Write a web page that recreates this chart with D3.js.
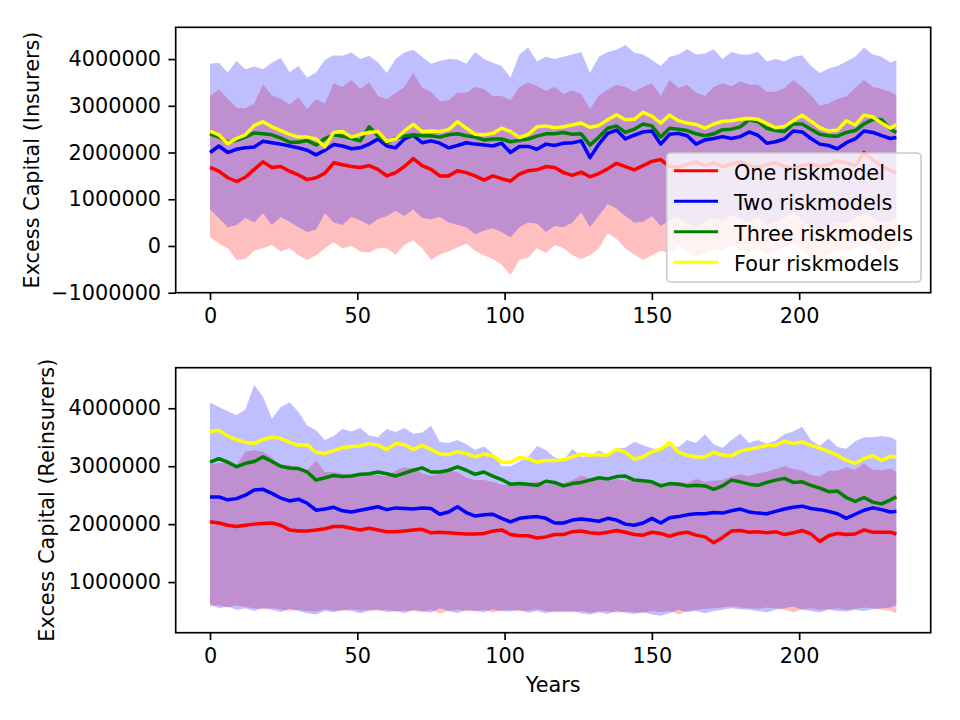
<!DOCTYPE html>
<html>
<head>
<meta charset="utf-8">
<script src="https://cdn.jsdelivr.net/npm/d3@7"></script>
<style>
  body { margin: 0; background: #fff; }
  svg text { font-family: "DejaVu Sans", sans-serif; fill: #000; }
</style>
</head>
<body>
<div id="chart"></div>
<script>
// years sampled from the simulation (every 3rd year)
const years = [0,3,6,9,12,15,18,21,24,27,30,33,36,39,42,45,48,51,54,
  57,60,63,66,69,72,75,78,81,84,87,90,93,96,99,102,105,108,111,114,117,
  120,123,126,129,132,135,138,141,144,147,150,153,156,159,162,165,168,171,174,177,180,
  183,186,189,192,195,198,201,204,207,210,213,216,219,222,225,228,231,233];

// ---- Insurers (millions) ----
const oneIns = [1.68,1.60,1.46,1.38,1.47,1.64,1.80,1.68,1.70,1.60,1.52,1.42,1.46,1.56,1.78,1.74,1.70,1.68,1.72,
  1.64,1.50,1.57,1.70,1.87,1.72,1.64,1.50,1.50,1.61,1.57,1.50,1.41,1.50,1.44,1.39,1.54,1.61,1.63,1.70,1.68,
  1.57,1.51,1.58,1.48,1.55,1.65,1.77,1.70,1.63,1.72,1.81,1.85,1.70,1.68,1.75,1.80,1.72,1.78,1.70,1.75,1.80,
  1.72,1.68,1.74,1.78,1.70,1.66,1.72,1.76,1.70,1.74,1.82,1.78,1.72,2.00,1.85,1.70,1.62,1.55];
const twoIns = [2.00,2.14,2.00,2.07,2.10,2.12,2.24,2.21,2.18,2.14,2.10,2.05,1.95,2.05,2.17,2.14,2.08,2.10,2.18,
  2.29,2.14,2.10,2.29,2.37,2.21,2.25,2.20,2.10,2.15,2.21,2.18,2.16,2.14,2.20,2.00,2.13,2.13,2.07,2.18,2.15,
  2.20,2.21,2.25,1.89,2.18,2.41,2.48,2.29,2.37,2.44,2.46,2.18,2.39,2.41,2.36,2.18,2.27,2.30,2.34,2.30,2.34,
  2.44,2.37,2.20,2.23,2.29,2.46,2.44,2.30,2.18,2.15,2.08,2.21,2.29,2.46,2.43,2.36,2.30,2.32];
const threeIns = [2.40,2.33,2.22,2.26,2.33,2.42,2.40,2.38,2.31,2.22,2.22,2.26,2.16,2.30,2.38,2.35,2.30,2.25,2.55,
  2.36,2.21,2.31,2.35,2.38,2.36,2.36,2.33,2.38,2.40,2.36,2.33,2.27,2.29,2.29,2.23,2.26,2.29,2.35,2.40,2.40,
  2.43,2.39,2.40,2.16,2.33,2.52,2.57,2.43,2.50,2.61,2.57,2.33,2.52,2.50,2.47,2.40,2.36,2.40,2.49,2.50,2.55,
  2.70,2.66,2.52,2.47,2.45,2.61,2.61,2.50,2.39,2.36,2.35,2.43,2.47,2.61,2.71,2.70,2.50,2.43];
const fourIns = [2.46,2.38,2.19,2.30,2.38,2.58,2.66,2.55,2.47,2.39,2.33,2.33,2.29,2.12,2.43,2.45,2.33,2.39,2.43,
  2.45,2.24,2.29,2.46,2.60,2.45,2.46,2.45,2.49,2.66,2.52,2.39,2.38,2.41,2.52,2.45,2.32,2.39,2.55,2.57,2.53,
  2.55,2.59,2.63,2.54,2.58,2.70,2.81,2.70,2.71,2.86,2.78,2.63,2.80,2.68,2.63,2.60,2.52,2.61,2.67,2.68,2.71,
  2.73,2.71,2.62,2.53,2.56,2.68,2.80,2.67,2.53,2.46,2.48,2.68,2.59,2.80,2.76,2.63,2.52,2.60];
const oneInsLo = [0.20,0.05,-0.05,-0.30,-0.28,-0.10,-0.05,0.02,-0.12,-0.05,-0.20,-0.30,-0.20,-0.05,0.08,-0.05,0.00,-0.12,-0.14,
  -0.05,-0.05,-0.18,0.02,0.12,-0.05,-0.30,-0.18,-0.12,-0.03,0.05,-0.10,-0.20,-0.28,-0.40,-0.62,-0.30,-0.25,-0.05,-0.15,0.02,
  -0.05,-0.20,-0.28,-0.20,-0.05,0.28,0.15,-0.05,-0.18,-0.30,-0.20,-0.10,-0.15,0.00,-0.10,-0.22,-0.15,-0.05,-0.12,0.02,-0.08,
  -0.15,-0.05,-0.20,-0.12,-0.02,0.05,-0.08,-0.25,-0.30,-0.18,-0.10,-0.15,-0.05,0.08,-0.05,-0.15,-0.10,-0.05];
const oneInsHi = [3.21,3.35,3.15,2.96,2.95,3.05,3.46,3.22,3.15,3.03,3.18,2.93,3.14,3.05,3.48,3.40,3.55,3.36,3.50,
  3.21,3.14,3.28,3.40,3.71,3.38,3.30,3.10,3.12,3.28,3.28,3.40,3.36,3.21,3.21,3.12,3.40,3.50,3.42,3.32,3.40,
  3.25,3.33,3.25,2.93,3.22,3.35,3.45,3.40,3.30,3.40,3.48,3.21,3.55,3.38,3.45,3.28,3.21,3.40,3.48,3.42,3.52,
  3.45,3.45,3.30,3.30,3.38,3.55,3.40,3.22,3.00,3.05,3.15,3.20,3.38,3.55,3.40,3.36,3.30,3.22];
const twoInsLo = [0.78,0.60,0.40,0.45,0.60,0.50,0.70,0.45,0.62,0.52,0.40,0.30,0.35,0.70,0.50,0.45,0.62,0.55,0.45,
  0.57,0.64,0.75,0.64,0.78,0.60,0.57,0.62,0.50,0.45,0.40,0.25,0.33,0.38,0.30,0.18,0.40,0.50,0.48,0.30,0.43,
  0.40,0.50,0.72,0.40,0.65,0.90,0.80,0.64,0.50,0.52,0.64,0.43,0.55,0.62,0.48,0.40,0.52,0.60,0.55,0.66,0.58,
  0.50,0.62,0.45,0.52,0.60,0.70,0.55,0.42,0.35,0.45,0.52,0.48,0.58,0.70,0.62,0.50,0.55,0.60];
const twoInsHi = [3.90,3.92,3.71,3.96,3.78,3.84,3.78,3.92,4.03,3.72,3.85,3.60,3.71,3.98,4.08,4.07,4.14,4.00,4.07,
  3.93,3.70,4.00,4.14,4.20,4.05,3.90,3.96,4.00,3.99,3.90,4.15,4.00,3.92,3.85,3.60,4.10,4.25,3.95,4.05,4.00,
  4.05,4.10,4.15,3.70,4.05,4.15,4.20,4.30,4.14,4.10,3.98,3.85,4.05,4.10,4.21,4.10,4.12,4.21,4.00,4.15,4.10,
  4.10,4.15,3.95,4.00,3.95,4.05,4.08,3.85,3.70,3.80,3.85,3.95,4.05,4.25,4.10,4.05,3.92,3.98];

// ---- Reinsurers (millions) ----
const oneRe = [2.04,2.02,1.98,1.96,1.98,2.00,2.01,2.02,1.98,1.90,1.88,1.88,1.90,1.92,1.96,1.96,1.93,1.90,1.93,
  1.90,1.87,1.87,1.88,1.90,1.91,1.85,1.86,1.85,1.84,1.83,1.83,1.84,1.88,1.90,1.82,1.80,1.80,1.76,1.78,1.82,
  1.82,1.87,1.88,1.85,1.84,1.86,1.89,1.86,1.82,1.81,1.86,1.84,1.79,1.84,1.86,1.81,1.78,1.68,1.77,1.88,1.89,
  1.86,1.87,1.85,1.87,1.82,1.85,1.89,1.83,1.70,1.80,1.84,1.82,1.83,1.90,1.86,1.86,1.86,1.83];
const twoRe = [2.47,2.47,2.42,2.44,2.50,2.59,2.60,2.53,2.45,2.40,2.43,2.36,2.24,2.26,2.29,2.23,2.21,2.24,2.27,
  2.30,2.25,2.28,2.27,2.26,2.28,2.27,2.17,2.21,2.30,2.20,2.14,2.16,2.17,2.10,2.04,2.10,2.12,2.13,2.10,2.02,
  2.02,2.07,2.09,2.07,2.05,2.10,2.07,2.00,1.98,2.02,2.10,2.02,2.11,2.13,2.16,2.18,2.18,2.20,2.19,2.23,2.26,
  2.21,2.19,2.18,2.22,2.26,2.29,2.31,2.27,2.25,2.22,2.18,2.10,2.17,2.24,2.28,2.25,2.21,2.22];
const threeRe = [3.07,3.13,3.07,2.99,3.05,3.08,3.16,3.08,3.00,2.97,2.96,2.90,2.76,2.80,2.84,2.82,2.83,2.86,2.87,
  2.90,2.87,2.83,2.88,2.93,2.97,2.90,2.90,2.93,2.99,2.93,2.86,2.90,2.83,2.77,2.69,2.70,2.69,2.67,2.74,2.72,
  2.66,2.70,2.72,2.76,2.80,2.78,2.82,2.83,2.76,2.75,2.73,2.66,2.70,2.69,2.66,2.67,2.66,2.60,2.66,2.76,2.73,
  2.69,2.67,2.72,2.76,2.79,2.72,2.73,2.67,2.62,2.56,2.57,2.46,2.39,2.46,2.38,2.35,2.42,2.47];
const fourRe = [3.60,3.62,3.52,3.46,3.41,3.39,3.46,3.50,3.48,3.41,3.36,3.37,3.24,3.22,3.27,3.32,3.34,3.35,3.39,
  3.36,3.29,3.39,3.37,3.29,3.36,3.29,3.21,3.20,3.25,3.22,3.16,3.21,3.18,3.07,3.07,3.15,3.13,3.07,3.10,3.10,
  3.11,3.16,3.21,3.19,3.20,3.19,3.29,3.24,3.12,3.16,3.25,3.29,3.41,3.24,3.19,3.16,3.16,3.24,3.19,3.18,3.26,
  3.29,3.32,3.36,3.36,3.43,3.39,3.42,3.36,3.31,3.25,3.19,3.10,3.05,3.13,3.18,3.10,3.17,3.16];
const oneReLo = [0.58,0.60,0.56,0.60,0.57,0.55,0.52,0.55,0.53,0.50,0.52,0.50,0.49,0.53,0.51,0.50,0.53,0.51,0.52,
  0.50,0.52,0.49,0.51,0.50,0.48,0.52,0.46,0.50,0.52,0.49,0.50,0.52,0.48,0.51,0.52,0.49,0.51,0.53,0.50,0.48,
  0.50,0.48,0.50,0.47,0.49,0.50,0.47,0.49,0.48,0.47,0.50,0.48,0.50,0.44,0.50,0.52,0.54,0.55,0.56,0.58,0.56,
  0.55,0.54,0.56,0.55,0.52,0.48,0.53,0.55,0.52,0.53,0.55,0.52,0.54,0.56,0.55,0.52,0.50,0.46];
const oneReHi = [3.04,3.05,3.07,3.02,3.25,3.28,3.25,3.15,2.98,3.02,2.96,2.93,3.10,2.90,2.90,2.87,2.83,2.85,2.86,
  2.85,2.82,2.92,2.98,2.96,2.88,2.83,2.88,2.92,2.90,2.80,2.76,2.76,2.73,2.68,2.67,2.70,2.70,2.73,2.68,2.70,
  2.71,2.76,2.84,2.78,2.78,2.74,2.78,2.75,2.76,2.72,2.72,2.70,2.72,2.73,2.71,2.78,2.73,2.75,2.76,2.82,2.86,
  2.83,2.88,2.90,2.95,3.00,2.95,2.92,2.85,2.82,2.92,2.92,2.98,2.94,3.05,2.94,2.93,2.96,2.90];
const twoReLo = [0.62,0.55,0.58,0.52,0.55,0.50,0.56,0.52,0.48,0.54,0.50,0.46,0.44,0.50,0.48,0.52,0.50,0.46,0.50,
  0.53,0.48,0.50,0.46,0.52,0.50,0.47,0.55,0.50,0.46,0.52,0.50,0.48,0.53,0.50,0.49,0.52,0.47,0.50,0.46,0.50,
  0.48,0.50,0.46,0.44,0.48,0.45,0.50,0.47,0.45,0.48,0.44,0.42,0.46,0.52,0.48,0.50,0.46,0.50,0.52,0.55,0.53,
  0.52,0.50,0.48,0.52,0.55,0.58,0.52,0.50,0.48,0.52,0.50,0.49,0.52,0.50,0.53,0.55,0.56,0.60];
const twoReHi = [4.10,4.02,3.95,3.88,3.98,4.40,4.20,3.82,4.02,4.10,3.94,3.70,3.62,3.45,3.52,3.64,3.60,3.66,3.53,
  3.50,3.64,3.59,3.66,3.56,3.58,3.70,3.42,3.40,3.45,3.38,3.28,3.34,3.22,3.00,3.00,3.08,3.16,3.35,3.28,3.15,
  3.10,3.30,3.16,3.18,3.27,3.20,3.30,3.32,3.42,3.36,3.31,3.28,3.36,3.33,3.45,3.40,3.55,3.38,3.32,3.45,3.56,
  3.40,3.45,3.39,3.44,3.55,3.60,3.68,3.45,3.35,3.48,3.33,3.30,3.43,3.50,3.50,3.52,3.50,3.45];

const seriesNames = ["One riskmodel", "Two riskmodels", "Three riskmodels", "Four riskmodels"];
const seriesColors = ["#ff0000", "#0000ff", "#008000", "#ffff00"];
const xTicks = [0, 50, 100, 150, 200];
const insTicks = [-1000000, 0, 1000000, 2000000, 3000000, 4000000];
const reTicks = [1000000, 2000000, 3000000, 4000000];

const fs = 20.8;
const svg = d3.select("#chart").append("svg")
  .attr("width", 960)
  .attr("height", 720);

const fmt = function(d) { return d < 0 ? "\u2212" + Math.abs(d) : String(d); };

function drawPanel(p) {
  const x = d3.scaleLinear().domain([-11.65, 244.65]).range([p.left, p.right]);
  const y = d3.scaleLinear().domain(p.yDomain).range([p.bottom, p.top]);
  const g = svg.append("g");

  // shaded ranges (one and two riskmodels)
  p.bands.forEach(function(b) {
    g.append("path")
      .datum(years.map(function(t, i) { return [t, b.lo[i], b.hi[i]]; }))
      .attr("fill", b.color)
      .attr("fill-opacity", 0.25)
      .attr("d", d3.area()
        .x(function(d) { return x(d[0]); })
        .y0(function(d) { return y(d[1] * 1e6); })
        .y1(function(d) { return y(d[2] * 1e6); }));
  });

  // mean lines
  p.lines.forEach(function(vals, k) {
    g.append("path")
      .datum(vals)
      .attr("fill", "none")
      .attr("stroke", seriesColors[k])
      .attr("stroke-width", 3.5)
      .attr("stroke-linejoin", "round")
      .attr("d", d3.line()
        .x(function(d, i) { return x(years[i]); })
        .y(function(d) { return y(d * 1e6); }));
  });

  // x axis
  g.append("g")
    .attr("transform", "translate(0," + p.bottom + ")")
    .call(d3.axisBottom(x).tickValues(xTicks).tickSize(7.3).tickPadding(7.9).tickSizeOuter(0))
    .call(function(a) { a.select(".domain").remove(); })
    .call(function(a) {
      a.selectAll("line").attr("stroke", "#000").attr("stroke-width", 1.67);
      a.selectAll("text").attr("font-size", fs).attr("font-family", "DejaVu Sans");
    });

  // y axis
  g.append("g")
    .attr("transform", "translate(" + p.left + ",0)")
    .call(d3.axisLeft(y).tickValues(p.ticks).tickFormat(fmt).tickSize(7.3).tickPadding(7.3).tickSizeOuter(0))
    .call(function(a) { a.select(".domain").remove(); })
    .call(function(a) {
      a.selectAll("line").attr("stroke", "#000").attr("stroke-width", 1.67);
      a.selectAll("text").attr("font-size", fs).attr("font-family", "DejaVu Sans");
    });

  // frame
  g.append("rect")
    .attr("x", p.left).attr("y", p.top)
    .attr("width", p.right - p.left).attr("height", p.bottom - p.top)
    .attr("fill", "none").attr("stroke", "#000").attr("stroke-width", 1.67);

  // y label
  g.append("text")
    .attr("transform", "translate(" + p.labelX + "," + ((p.top + p.bottom) / 2) + ") rotate(-90)")
    .attr("text-anchor", "middle")
    .attr("font-size", fs)
    .text(p.label);

  return g;
}

drawPanel({
  left: 175.7, right: 930.7, top: 27.3, bottom: 292.7,
  yDomain: [-1000000, 4680000], ticks: insTicks,
  label: "Excess Capital (Insurers)", labelX: 39,
  bands: [
    { lo: oneInsLo, hi: oneInsHi, color: seriesColors[0] },
    { lo: twoInsLo, hi: twoInsHi, color: seriesColors[1] }
  ],
  lines: [oneIns, twoIns, threeIns, fourIns]
});

drawPanel({
  left: 175.7, right: 930.7, top: 367.7, bottom: 632.7,
  yDomain: [126000, 4700000], ticks: reTicks,
  label: "Excess Capital (Reinsurers)", labelX: 54,
  bands: [
    { lo: oneReLo, hi: oneReHi, color: seriesColors[0] },
    { lo: twoReLo, hi: twoReHi, color: seriesColors[1] }
  ],
  lines: [oneRe, twoRe, threeRe, fourRe]
});

// x label
svg.append("text")
  .attr("x", 553.2)
  .attr("y", 692)
  .attr("text-anchor", "middle")
  .attr("font-size", fs)
  .text("Years");

// legend
const legX = 666.7, legY = 153, rowGap = 30.5;
const legend = svg.append("g");
legend.append("rect")
  .attr("x", legX).attr("y", legY)
  .attr("width", 254.3).attr("height", 129)
  .attr("rx", 4).attr("ry", 4)
  .attr("fill", "#fff").attr("fill-opacity", 0.8)
  .attr("stroke", "#cccccc").attr("stroke-width", 1.67);

const rows = legend.selectAll(".row")
  .data(seriesNames)
  .enter()
  .append("g")
    .attr("transform", function(d, i) { return "translate(0," + (legY + 17.7 + i * rowGap) + ")"; });
rows.append("line")
  .attr("x1", 674).attr("x2", 718)
  .attr("stroke", function(d, i) { return seriesColors[i]; })
  .attr("stroke-width", 3.1);
rows.append("text")
  .attr("x", 734)
  .attr("y", 9)
  .attr("font-size", fs)
  .text(function(d) { return d; });
</script>
</body>
</html>
